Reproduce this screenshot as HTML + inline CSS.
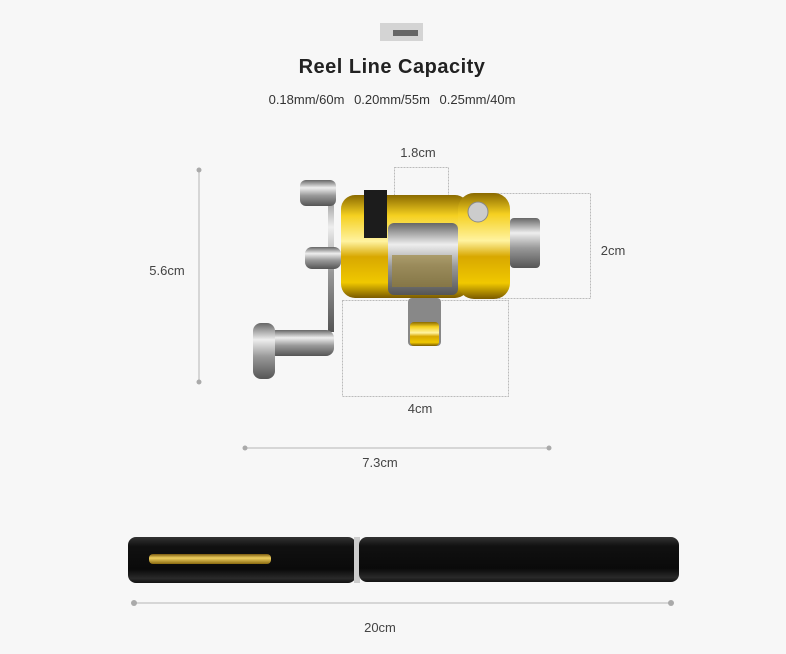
<!DOCTYPE html>
<html><head><style>
html,body{margin:0;padding:0;background:#f7f7f7;}
svg{display:block}
</style></head><body>
<svg width="786" height="654" viewBox="0 0 786 654" xmlns="http://www.w3.org/2000/svg">
<defs>
<linearGradient id="gold" x1="0" y1="0" x2="0" y2="1">
<stop offset="0" stop-color="#8a6a00"/><stop offset="0.2" stop-color="#f5d020"/><stop offset="0.45" stop-color="#fff3a0"/><stop offset="0.6" stop-color="#d8a800"/><stop offset="0.85" stop-color="#f0c800"/><stop offset="1" stop-color="#7a5a00"/>
</linearGradient>
<linearGradient id="silver" x1="0" y1="0" x2="0" y2="1">
<stop offset="0" stop-color="#666"/><stop offset="0.3" stop-color="#eee"/><stop offset="0.6" stop-color="#999"/><stop offset="1" stop-color="#555"/>
</linearGradient>
<linearGradient id="pen" x1="0" y1="0" x2="0" y2="1">
<stop offset="0" stop-color="#333"/><stop offset="0.2" stop-color="#111"/><stop offset="0.7" stop-color="#0a0a0a"/><stop offset="0.9" stop-color="#2a2a2a"/><stop offset="1" stop-color="#111"/>
</linearGradient>
<linearGradient id="clip" x1="0" y1="0" x2="0" y2="1">
<stop offset="0" stop-color="#7a5a10"/><stop offset="0.4" stop-color="#f0d060"/><stop offset="1" stop-color="#8a6a10"/>
</linearGradient>
</defs>
<rect x="380" y="23" width="43" height="18" fill="#d4d4d4"/>
<rect x="393" y="30" width="25" height="6" fill="#666"/>
<text x="392" y="73" text-anchor="middle" font-family="Liberation Sans, sans-serif" font-weight="bold" font-size="20" fill="#222" letter-spacing="0.5">Reel Line Capacity</text>
<text x="392" y="104" text-anchor="middle" font-family="Liberation Sans, sans-serif" font-size="13" fill="#333" word-spacing="6">0.18mm/60m  0.20mm/55m  0.25mm/40m</text>

<g stroke="#bbb" stroke-width="1" fill="none" stroke-dasharray="2,1">
<rect x="394.5" y="167.5" width="54" height="38"/>
<rect x="488.5" y="193.5" width="102" height="105"/>
<rect x="342.5" y="300.5" width="166" height="96"/>
</g>
<g stroke="#ccc" stroke-width="1.5">
<line x1="199" y1="170" x2="199" y2="382"/>
<line x1="245" y1="448" x2="549" y2="448"/>
<line x1="134" y1="603" x2="671" y2="603"/>
</g>
<g fill="#aaa">
<circle cx="199" cy="170" r="2.5"/><circle cx="199" cy="382" r="2.5"/>
<circle cx="245" cy="448" r="2.5"/><circle cx="549" cy="448" r="2.5"/>
<circle cx="134" cy="603" r="3"/><circle cx="671" cy="603" r="3"/>
</g>
<g font-family="Liberation Sans, sans-serif" font-size="13" fill="#444">
<text x="418" y="157" text-anchor="middle">1.8cm</text>
<text x="613" y="255" text-anchor="middle">2cm</text>
<text x="167" y="275" text-anchor="middle">5.6cm</text>
<text x="420" y="413" text-anchor="middle">4cm</text>
<text x="380" y="467" text-anchor="middle">7.3cm</text>
<text x="380" y="632" text-anchor="middle">20cm</text>
</g>

<!-- reel -->
<rect x="328" y="182" width="6" height="150" fill="url(#silver)"/>
<rect x="300" y="180" width="36" height="26" rx="6" fill="url(#silver)"/>
<rect x="305" y="247" width="36" height="22" rx="7" fill="url(#silver)"/>
<rect x="268" y="330" width="66" height="26" rx="8" fill="url(#silver)"/>
<rect x="253" y="323" width="22" height="56" rx="8" fill="url(#silver)"/>
<rect x="408" y="298" width="33" height="48" rx="4" fill="#888"/>
<rect x="410" y="322" width="29" height="24" rx="4" fill="url(#gold)"/>
<rect x="341" y="195" width="128" height="103" rx="14" fill="url(#gold)"/>
<rect x="458" y="193" width="52" height="106" rx="16" fill="url(#gold)"/>
<rect x="364" y="190" width="23" height="48" fill="#1c1c1c"/>
<rect x="388" y="223" width="70" height="72" rx="6" fill="url(#silver)"/>
<rect x="392" y="255" width="60" height="32" fill="#9a8030" opacity="0.6"/>
<rect x="510" y="218" width="30" height="50" rx="4" fill="url(#silver)"/>
<circle cx="478" cy="212" r="10" fill="#ccc" stroke="#888"/>

<!-- pen -->
<rect x="128" y="537" width="228" height="46" rx="8" fill="url(#pen)"/>
<rect x="354" y="537" width="6" height="46" fill="#ccc"/>
<rect x="359" y="537" width="320" height="45" rx="8" fill="url(#pen)"/>
<rect x="149" y="554" width="122" height="10" rx="4" fill="url(#clip)"/>
</svg>
</body></html>
